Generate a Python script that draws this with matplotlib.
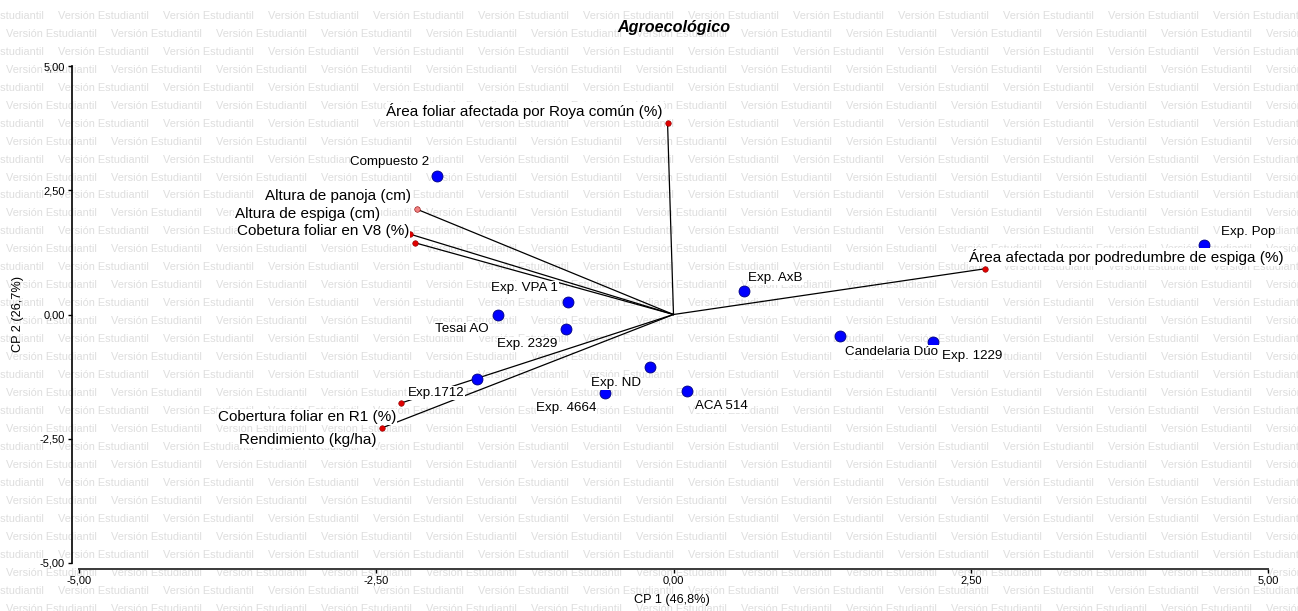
import matplotlib
matplotlib.use("Agg")
import matplotlib.pyplot as plt
from matplotlib.ticker import FuncFormatter, FixedLocator

# ---- data -----------------------------------------------------------
obs_names = ["Compuesto 2", "Exp. Pop", "Exp. AxB", "Exp. VPA 1", "Tesai AO",
             "Exp. 2329", "Candelaria Dúo", "Exp. 1229", "Exp. ND",
             "Exp. 4664", "ACA 514", "Exp.1712"]
obs_cp1 = [-1.99, 4.46, 0.59, -0.89, -1.48, -0.90, 1.40, 2.18, -0.20, -0.58, 0.11, -1.65]
obs_cp2 = [2.79, 1.40, 0.47, 0.25, -0.01, -0.29, -0.43, -0.55, -1.06, -1.58, -1.54, -1.30]

var_names = ["Área foliar afectada por Roya común (%)", "Altura de panoja (cm)",
             "Altura de espiga (cm)", "Cobetura foliar en V8 (%)",
             "Área afectada por podredumbre de espiga (%)",
             "Cobertura foliar en R1 (%)", "Rendimiento (kg/ha)"]
var_cp1 = [-0.05, -2.16, -2.22, -2.17, 2.62, -2.29, -2.45]
var_cp2 = [3.85, 2.12, 1.62, 1.44, 0.92, -1.78, -2.28]

tick_values = [-5.0, -2.5, 0.0, 2.5, 5.0]
title_text = "Agroecológico"
xlabel_text = "CP 1 (46,8%)"
ylabel_text = "CP 2 (26,7%)"

# label offsets (pixels, label centre relative to point)
obs_offsets = [(-47, 14), (44, 13), (32, 13), (-43, 14), (-36, -14), (-39, -15),
               (52, -16), (39, -14), (-34, -16), (-38, -15), (35, -15), (-41, -14)]
var_offsets = [(-143, 12), (-79, 13), (-102, 20), (-92, 12), (141, 12), (-94, -14), (-74, -12)]
var_marker_colors = ["#e00000", "#f08080", "#e00000", "#e00000", "#e00000", "#e00000", "#e00000"]

# ---- figure ---------------------------------------------------------
plt.rcParams['font.family'] = ['Liberation Sans', 'DejaVu Sans']
W, H = 1298, 611
fig = plt.figure(figsize=(W / 100, H / 100), dpi=100)
fig.patch.set_facecolor("white")

# watermark
row_step = 17.98
col_step = 105.0
y = 15.7
r = 0
while y < H + 10:
    x0 = 58.3 if r % 2 == 0 else 5.8
    x = x0 - col_step
    while x < W + 10:
        fig.text(x / W, 1 - y / H, "Versión Estudiantil", fontsize=7.9,
                 color="#dedede", ha="left", va="center", zorder=-5,
                 family=['Liberation Sans', 'DejaVu Sans'])
        x += col_step
    y += row_step
    r += 1

ax = fig.add_axes([79 / W, 48 / H, 1189 / W, 497 / H])
ax.set_facecolor("none")
ax.set_xlim(-5, 5)
ax.set_ylim(-5, 5)

# vectors
for i, name in enumerate(var_names):
    ax.plot([0, var_cp1[i]], [0, var_cp2[i]], color="black", lw=0.9, zorder=2)
    ax.scatter([var_cp1[i]], [var_cp2[i]], s=16, color=var_marker_colors[i],
               edgecolors="#8b0000", linewidths=0.4, zorder=3)
    ax.annotate(name, (var_cp1[i], var_cp2[i]), xytext=var_offsets[i],
                textcoords="offset pixels", ha="center", va="center",
                fontsize=11, color="black", zorder=5,
                bbox=dict(boxstyle="square,pad=0.05", fc="white", ec="none"))

# observations
ax.scatter(obs_cp1, obs_cp2, s=62, color="#0000ff", edgecolors="#000080",
           linewidths=0.6, zorder=4)
for i, name in enumerate(obs_names):
    ax.annotate(name, (obs_cp1[i], obs_cp2[i]), xytext=obs_offsets[i],
                textcoords="offset pixels", ha="center", va="center",
                fontsize=9.6, color="black", zorder=5,
                bbox=dict(boxstyle="square,pad=0.05", fc="white", ec="none"))

# axes styling
for s in ["top", "right"]:
    ax.spines[s].set_visible(False)
ax.spines["left"].set_position(("outward", 5))
ax.spines["bottom"].set_position(("outward", 4.3))
ax.spines["left"].set_color("black")
ax.spines["bottom"].set_color("#3a3a3a")
ax.spines["left"].set_linewidth(1.2)
ax.spines["bottom"].set_linewidth(1.4)

fmt = FuncFormatter(lambda v, p: f"{v:.2f}".replace(".", ","))
ax.xaxis.set_major_locator(FixedLocator(tick_values))
ax.yaxis.set_major_locator(FixedLocator(tick_values))
ax.xaxis.set_major_formatter(fmt)
ax.yaxis.set_major_formatter(fmt)
ax.tick_params(axis="both", direction="out", length=3, width=1, labelsize=8,
               colors="black", pad=2)

ax.set_xlabel(xlabel_text, fontsize=9.2, va="center")
ax.xaxis.set_label_coords(0.4987, -0.0744)
ax.set_ylabel(ylabel_text, fontsize=9.2, va="center")
ax.yaxis.set_label_coords(-0.0513, 0.501)

ax.set_title(title_text, fontsize=11.6, fontweight="bold", fontstyle="italic",
             y=1.0765, va="center", pad=0)

fig.savefig("out.png", dpi=100)
